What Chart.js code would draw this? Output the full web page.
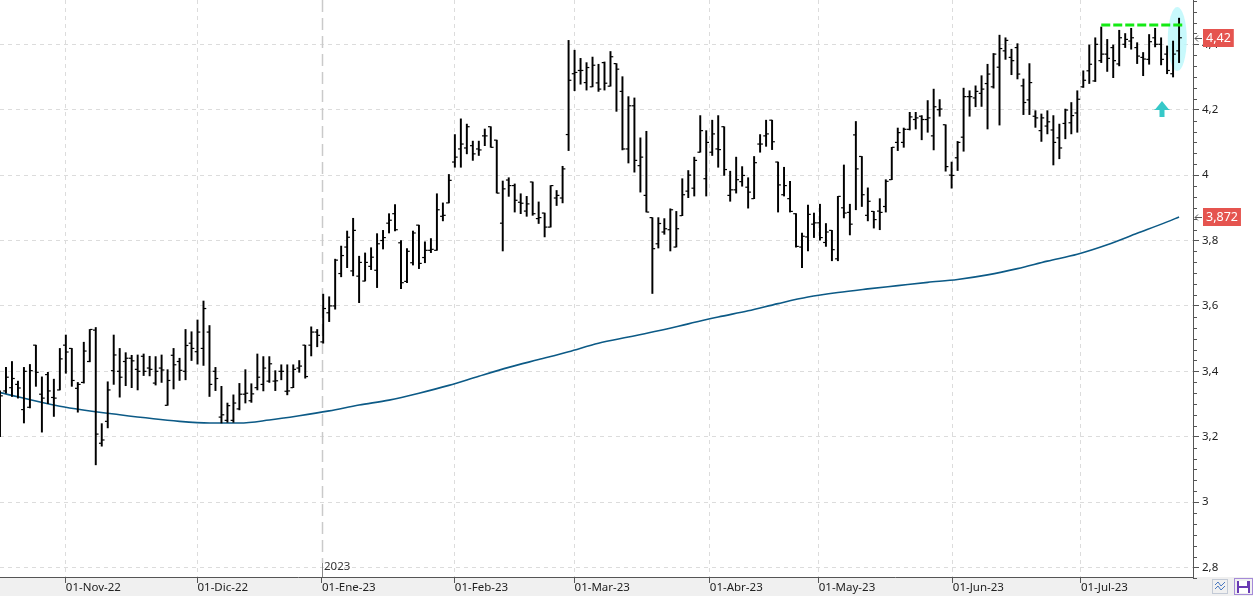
<!DOCTYPE html>
<html>
<head>
<meta charset="utf-8">
<script src="https://cdn.jsdelivr.net/npm/chart.js@4.4.0/dist/chart.umd.min.js"></script>
<style>
  html, body { margin: 0; padding: 0; background: #fff; }
  canvas { display: block; }
</style>
</head>
<body>
<canvas id="chart" width="1253" height="596"></canvas>
<script>
// daily OHLC, one entry per session (mid Oct-22 to late Jul-23)
const opens = [
  3.21, 3.34, 3.35, 3.36, 3.283, 3.29, 3.48, 3.33, 3.39, 3.32,
  3.343, 3.48, 3.47, 3.348, 3.366, 3.43, 3.526, 3.18, 3.247, 3.402,
  3.40, 3.43, 3.44, 3.406, 3.446, 3.41, 3.364, 3.41, 3.296, 3.449,
  3.43, 3.40, 3.486, 3.46, 3.47, 3.52, 3.40, 3.26, 3.25, 3.25,
  3.285, 3.33, 3.31, 3.35, 3.36, 3.37, 3.37, 3.40, 3.339, 3.35,
  3.41, 3.48, 3.48, 3.52, 3.49, 3.579, 3.60, 3.699, 3.78, 3.707,
  3.691, 3.676, 3.721, 3.709, 3.80, 3.853, 3.882, 3.793, 3.675, 3.732,
  3.847, 3.748, 3.77, 3.77, 3.874, 3.915, 4.04, 4.08, 4.083, 4.09,
  4.08, 4.12, 4.148, 4.107, 3.853, 3.985, 3.968, 3.917, 3.89, 3.979,
  3.867, 3.884, 3.841, 3.93, 3.93, 4.124, 4.31, 4.32, 4.283, 4.27,
  4.282, 4.344, 4.272, 4.341, 4.256, 4.08, 4.212, 4.029, 3.938, 3.87,
  3.79, 3.826, 3.833, 3.78, 3.876, 3.951, 3.96, 4.07, 3.989, 4.07,
  4.08, 4.148, 3.938, 3.955, 3.98, 3.963, 3.928, 4.095, 4.12, 4.168,
  4.04, 3.94, 3.928, 3.882, 3.78, 3.811, 3.85, 3.854, 3.794, 3.831,
  3.744, 3.90, 3.886, 4.123, 4.057, 3.877, 3.889, 3.89, 3.904, 3.986,
  4.10, 4.10, 4.14, 4.17, 4.18, 4.17, 4.12, 4.20, 4.154, 4.00,
  4.053, 4.116, 4.24, 4.236, 4.25, 4.28, 4.27, 4.33, 4.38, 4.36,
  4.39, 4.273, 4.23, 4.18, 4.136, 4.15, 4.138, 4.114, 4.158, 4.16,
  4.19, 4.27, 4.319, 4.288, 4.35, 4.37, 4.39, 4.34, 4.40, 4.41,
  4.39, 4.36, 4.354, 4.42, 4.40, 4.37, 4.31, 4.38
];
const highs = [
  3.34, 3.412, 3.43, 3.37, 3.412, 3.421, 3.48, 3.383, 3.397, 3.376,
  3.47, 3.511, 3.47, 3.366, 3.489, 3.528, 3.534, 3.24, 3.368, 3.511,
  3.47, 3.457, 3.449, 3.45, 3.453, 3.446, 3.445, 3.45, 3.405, 3.47,
  3.44, 3.528, 3.521, 3.557, 3.615, 3.54, 3.412, 3.354, 3.303, 3.328,
  3.363, 3.405, 3.362, 3.453, 3.445, 3.445, 3.402, 3.42, 3.42, 3.42,
  3.433, 3.48, 3.536, 3.528, 3.636, 3.628, 3.743, 3.783, 3.829, 3.868,
  3.752, 3.762, 3.778, 3.821, 3.831, 3.882, 3.91, 3.80, 3.775, 3.829,
  3.847, 3.796, 3.806, 3.943, 3.915, 4.002, 4.124, 4.172, 4.156, 4.104,
  4.104, 4.141, 4.148, 4.107, 3.982, 3.992, 3.973, 3.943, 3.935, 3.979,
  3.918, 3.884, 3.968, 3.953, 4.027, 4.412, 4.382, 4.357, 4.344, 4.361,
  4.339, 4.346, 4.378, 4.341, 4.301, 4.24, 4.236, 4.114, 4.134, 3.87,
  3.87, 3.867, 3.897, 3.889, 3.989, 4.014, 4.055, 4.182, 4.136, 4.168,
  4.182, 4.148, 4.012, 4.055, 4.026, 3.992, 4.057, 4.124, 4.168, 4.168,
  4.04, 4.024, 3.981, 3.882, 3.823, 3.908, 3.884, 3.911, 3.852, 3.831,
  3.935, 4.031, 3.911, 4.164, 4.057, 3.961, 3.889, 3.928, 3.986, 4.085,
  4.144, 4.144, 4.192, 4.192, 4.182, 4.228, 4.263, 4.231, 4.154, 4.04,
  4.103, 4.266, 4.258, 4.273, 4.304, 4.339, 4.372, 4.428, 4.42, 4.385,
  4.402, 4.294, 4.341, 4.197, 4.187, 4.197, 4.182, 4.156, 4.202, 4.222,
  4.258, 4.319, 4.398, 4.42, 4.453, 4.415, 4.398, 4.443, 4.433, 4.449,
  4.405, 4.375, 4.43, 4.449, 4.42, 4.395, 4.41, 4.48
];
const lows = [
  3.20, 3.333, 3.323, 3.318, 3.242, 3.288, 3.354, 3.214, 3.301, 3.262,
  3.343, 3.394, 3.354, 3.275, 3.364, 3.429, 3.114, 3.171, 3.227, 3.36,
  3.321, 3.356, 3.35, 3.343, 3.387, 3.386, 3.358, 3.366, 3.296, 3.346,
  3.372, 3.374, 3.433, 3.422, 3.418, 3.323, 3.341, 3.242, 3.244, 3.244,
  3.282, 3.303, 3.305, 3.343, 3.34, 3.366, 3.341, 3.374, 3.328, 3.35,
  3.397, 3.379, 3.447, 3.475, 3.486, 3.552, 3.59, 3.689, 3.717, 3.692,
  3.61, 3.676, 3.711, 3.656, 3.774, 3.823, 3.829, 3.653, 3.671, 3.725,
  3.714, 3.732, 3.763, 3.77, 3.86, 3.915, 4.024, 4.024, 4.065, 4.045,
  4.06, 4.09, 4.085, 3.945, 3.768, 3.935, 3.887, 3.882, 3.874, 3.877,
  3.852, 3.811, 3.841, 3.907, 3.915, 4.075, 4.258, 4.278, 4.26, 4.27,
  4.256, 4.26, 4.272, 4.195, 4.077, 4.037, 4.009, 3.948, 3.887, 3.638,
  3.777, 3.819, 3.768, 3.78, 3.876, 3.931, 3.936, 4.07, 3.936, 4.06,
  4.024, 3.999, 3.92, 3.945, 3.966, 3.899, 3.928, 4.07, 4.088, 4.078,
  3.887, 3.936, 3.887, 3.78, 3.717, 3.768, 3.809, 3.801, 3.782, 3.738,
  3.738, 3.869, 3.817, 3.894, 3.904, 3.86, 3.838, 3.833, 3.887, 3.986,
  4.075, 4.085, 4.138, 4.141, 4.108, 4.131, 4.077, 4.18, 4.012, 3.96,
  4.014, 4.073, 4.18, 4.209, 4.21, 4.141, 4.266, 4.153, 4.354, 4.307,
  4.294, 4.185, 4.185, 4.146, 4.103, 4.126, 4.031, 4.05, 4.111, 4.126,
  4.131, 4.268, 4.28, 4.286, 4.344, 4.317, 4.298, 4.334, 4.39, 4.385,
  4.341, 4.304, 4.339, 4.392, 4.337, 4.31, 4.30, 4.344
];
const closes = [
  3.325, 3.382, 3.378, 3.349, 3.40, 3.402, 3.397, 3.318, 3.34, 3.318,
  3.438, 3.459, 3.372, 3.36, 3.462, 3.528, 3.208, 3.19, 3.343, 3.45,
  3.382, 3.44, 3.432, 3.40, 3.40, 3.406, 3.40, 3.404, 3.372, 3.42,
  3.403, 3.479, 3.47, 3.52, 3.592, 3.36, 3.378, 3.267, 3.295, 3.303,
  3.33, 3.333, 3.331, 3.382, 3.41, 3.423, 3.371, 3.40, 3.34, 3.406,
  3.416, 3.384, 3.52, 3.51, 3.592, 3.60, 3.74, 3.754, 3.81, 3.831,
  3.733, 3.733, 3.749, 3.79, 3.809, 3.862, 3.833, 3.671, 3.767, 3.823,
  3.73, 3.77, 3.773, 3.894, 3.877, 3.984, 4.055, 4.095, 4.148, 4.065,
  4.077, 4.12, 4.085, 3.945, 3.958, 3.968, 3.923, 3.914, 3.912, 3.882,
  3.87, 3.841, 3.968, 3.938, 4.019, 4.29, 4.314, 4.32, 4.329, 4.336,
  4.263, 4.281, 4.362, 4.324, 4.08, 4.212, 4.045, 4.055, 3.887, 3.775,
  3.852, 3.836, 3.894, 3.836, 3.94, 4.00, 4.045, 4.136, 4.10, 4.126,
  4.078, 4.017, 3.955, 3.986, 3.999, 3.948, 4.038, 4.095, 4.126, 4.102,
  3.97, 3.968, 3.889, 3.782, 3.813, 3.88, 3.854, 3.809, 3.826, 3.772,
  3.935, 3.884, 3.85, 4.019, 3.94, 3.92, 3.864, 3.886, 3.981, 4.085,
  4.13, 4.14, 4.178, 4.175, 4.17, 4.175, 4.209, 4.202, 4.026, 3.999,
  4.10, 4.24, 4.24, 4.256, 4.263, 4.309, 4.37, 4.387, 4.412, 4.35,
  4.309, 4.222, 4.283, 4.175, 4.175, 4.163, 4.10, 4.083, 4.199, 4.182,
  4.232, 4.29, 4.339, 4.40, 4.37, 4.357, 4.35, 4.42, 4.415, 4.42,
  4.364, 4.355, 4.408, 4.40, 4.354, 4.32, 4.37, 4.42
];

const maSessions = [0, 10, 20, 30, 35, 40, 45, 50, 55, 60, 65, 70, 75, 80, 85, 90, 95, 100,
  105, 110, 115, 120, 125, 130, 135, 140, 145, 150, 155, 160, 165, 170, 175, 180, 185, 190, 195, 197];
const maValues = [3.335, 3.293, 3.267, 3.247, 3.242, 3.242, 3.251, 3.264, 3.279, 3.297, 3.312,
  3.333, 3.357, 3.385, 3.412, 3.436, 3.46, 3.486, 3.505, 3.524, 3.545, 3.566, 3.585, 3.607,
  3.627, 3.641, 3.652, 3.662, 3.672, 3.681, 3.695, 3.714, 3.737, 3.758, 3.787, 3.822, 3.857, 3.872];

// month marks on the session axis
const monthSessions = [11, 33, 53.8, 76, 96, 118.6, 136.8, 159.2, 180.6];
const monthLabels = ['01-Nov-22', '01-Dic-22', '01-Ene-23', '01-Feb-23', '01-Mar-23',
  '01-Abr-23', '01-May-23', '01-Jun-23', '01-Jul-23'];
const yearMark = 2;        // index in monthSessions where 2023 starts
const yearLabel = '2023';
const priceTicks = [2.8, 3, 3.2, 3.4, 3.6, 3.8, 4, 4.2, 4.4];

// resistance drawn on the chart
const resistanceLevel = 4.459;
const resistanceSessions = [184, 197.7];
const highlightSession = 196.7, highlightPrice = 4.416;
const signalSession = 194.2, signalPrice = 4.227;

const fmt = v => String(v).replace('.', ',');

function drawArrowLabel(ctx, y, text) {
  const cy = Math.round(y);
  ctx.font = '12.5px "Noto Sans"';
  const w = ctx.measureText(text).width + 6;
  ctx.fillStyle = '#e5544f';
  ctx.fillRect(1203, cy - 9, w, 18);
  ctx.fillStyle = '#fff';
  ctx.textBaseline = 'middle';
  ctx.textAlign = 'left';
  ctx.fillText(text, 1206, cy + 0.5);
  ctx.strokeStyle = '#555';
  ctx.lineWidth = 1;
  ctx.beginPath();
  ctx.moveTo(1202, cy + 0.5);
  ctx.lineTo(1195, cy + 0.5);
  ctx.moveTo(1198, cy - 2.5);
  ctx.lineTo(1195, cy + 0.5);
  ctx.lineTo(1198, cy + 3.5);
  ctx.stroke();
}

const noPadding = s => {
  s.paddingLeft = 0; s.paddingRight = 0; s.paddingTop = 0; s.paddingBottom = 0;
};

const decorations = {
  id: 'decorations',
  beforeDraw(chart) {
    const { ctx, width, height, chartArea } = chart;
    ctx.save();
    ctx.fillStyle = '#f0f0f0';
    ctx.fillRect(0, chartArea.bottom, width, height - chartArea.bottom);
    ctx.restore();
  },
  beforeDatasetsDraw(chart) {
    const { ctx, chartArea, scales: { x, y } } = chart;
    ctx.save();
    // year separator
    const xs = Math.round(x.getPixelForValue(monthSessions[yearMark])) + 0.5;
    ctx.strokeStyle = '#cacaca';
    ctx.lineWidth = 1.5;
    ctx.setLineDash([12, 6]);
    ctx.beginPath();
    ctx.moveTo(xs, chartArea.top);
    ctx.lineTo(xs, chartArea.bottom - 14);
    ctx.stroke();
    ctx.setLineDash([]);
    ctx.strokeStyle = '#888';
    ctx.lineWidth = 1;
    ctx.beginPath();
    ctx.moveTo(xs, chartArea.bottom - 14);
    ctx.lineTo(xs, chartArea.bottom);
    ctx.stroke();
    ctx.fillStyle = '#333';
    ctx.font = '11.5px "Noto Sans"';
    ctx.textBaseline = 'middle';
    ctx.fillText(yearLabel, xs + 1.5, chartArea.bottom - 10);
    // highlight around last session
    ctx.fillStyle = 'rgba(190, 248, 252, 0.85)';
    ctx.beginPath();
    ctx.ellipse(x.getPixelForValue(highlightSession), y.getPixelForValue(highlightPrice), 9.5, 32, 0, 0, Math.PI * 2);
    ctx.fill();
    ctx.restore();
  },
  afterDraw(chart) {
    const { ctx, chartArea, scales: { x, y } } = chart;
    ctx.save();
    // minor ticks on the price axis
    const step = 0.2 / 6;
    ctx.strokeStyle = '#555';
    ctx.lineWidth = 1;
    ctx.beginPath();
    for (let k = -1; priceTicks[0] + k * step <= y.max; k++) {
      if (k % 6 === 0) continue;
      const py = Math.round(y.getPixelForValue(priceTicks[0] + k * step)) + 0.5;
      ctx.moveTo(chartArea.right, py);
      ctx.lineTo(chartArea.right + 4, py);
    }
    ctx.stroke();
    // signal arrow
    const ax = Math.round(x.getPixelForValue(signalSession));
    const ay = Math.round(y.getPixelForValue(signalPrice));
    ctx.fillStyle = '#36c8c8';
    ctx.beginPath();
    ctx.moveTo(ax, ay);
    ctx.lineTo(ax + 6.5, ay + 8);
    ctx.lineTo(ax - 6.5, ay + 8);
    ctx.closePath();
    ctx.fill();
    ctx.fillRect(ax - 7.5, ay + 8, 15, 1);
    ctx.fillRect(ax - 2.5, ay + 8, 5, 8);
    // last values
    drawArrowLabel(ctx, y.getPixelForValue(closes[closes.length - 1]), fmt(closes[closes.length - 1].toFixed(2)));
    drawArrowLabel(ctx, y.getPixelForValue(maValues[maValues.length - 1]), fmt(maValues[maValues.length - 1].toFixed(3)));
    // toolbar buttons
    ctx.strokeStyle = '#c3cad6';
    ctx.strokeRect(1212.5, 579.5, 15, 14);
    ctx.strokeStyle = '#4a78c0';
    ctx.beginPath();
    ctx.moveTo(1215, 585); ctx.lineTo(1218, 582); ctx.lineTo(1221, 586); ctx.lineTo(1225, 582);
    ctx.moveTo(1215, 589); ctx.lineTo(1218, 586); ctx.lineTo(1221, 590); ctx.lineTo(1225, 586);
    ctx.stroke();
    ctx.strokeStyle = '#a58ad8';
    ctx.strokeRect(1234.5, 578.5, 18, 16);
    ctx.fillStyle = '#6a3cb4';
    ctx.fillRect(1237, 581, 13, 12);
    ctx.fillStyle = '#fff';
    ctx.fillRect(1239, 581, 8, 5);
    ctx.fillRect(1239, 588, 9, 5);
    ctx.restore();
  }
};

Chart.defaults.font.family = '"Noto Sans", sans-serif';

new Chart(document.getElementById('chart'), {
  type: 'bar',
  data: {
    datasets: [
      {
        type: 'line',
        data: resistanceSessions.map(s => ({ x: s, y: resistanceLevel })),
        borderColor: '#14ea14',
        borderWidth: 3,
        borderDash: [9, 3],
        pointRadius: 0,
        order: 0
      },
      {
        type: 'scatter',
        data: opens.map((v, i) => ({ x: i - 0.25, y: v })),
        pointStyle: 'line',
        pointRadius: 1.3,
        borderColor: '#000',
        borderWidth: 1.2,
        order: 1
      },
      {
        type: 'scatter',
        data: closes.map((v, i) => ({ x: i + 0.25, y: v })),
        pointStyle: 'line',
        pointRadius: 1.3,
        borderColor: '#000',
        borderWidth: 1.2,
        order: 1
      },
      {
        type: 'bar',
        data: highs.map((h, i) => ({ x: i, y: [lows[i], h] })),
        backgroundColor: '#000',
        barThickness: 1.3,
        grouped: false,
        order: 2
      },
      {
        type: 'line',
        data: maSessions.map((s, k) => ({ x: s, y: maValues[k] })),
        borderColor: '#0c5a86',
        borderWidth: 1.6,
        pointRadius: 0,
        cubicInterpolationMode: 'monotone',
        order: 3
      }
    ]
  },
  options: {
    responsive: false,
    animation: false,
    events: [],
    layout: { padding: 0, autoPadding: false },
    plugins: { legend: { display: false }, tooltip: { enabled: false } },
    scales: {
      x: {
        type: 'linear',
        offset: false,
        min: 0,
        max: 199.33,
        afterFit(s) { s.height = 19; noPadding(s); },
        afterBuildTicks(s) { s.ticks = monthSessions.map(v => ({ value: v })); },
        ticks: {
          callback: (v, i) => monthLabels[i],
          align: 'start',
          autoSkip: false,
          maxRotation: 0,
          padding: -2,
          color: '#222',
          font: { size: 11.5 }
        },
        grid: {
          offset: false,
          color: c => c.index === yearMark ? 'rgba(0,0,0,0)' : '#dcdcdc',
          tickColor: '#555',
          tickLength: 6,
          tickBorderDash: []
        },
        border: { color: '#555', dash: [4, 4] }
      },
      y: {
        position: 'right',
        min: 2.771,
        max: 4.5355,
        afterFit(s) { s.width = 60; noPadding(s); },
        afterBuildTicks(s) { s.ticks = priceTicks.map(v => ({ value: v })); },
        ticks: {
          callback: v => fmt(Math.round(v * 10) / 10),
          padding: 3,
          color: '#222',
          font: { size: 11.5 }
        },
        grid: {
          color: '#dcdcdc',
          tickColor: '#555',
          tickLength: 6,
          tickBorderDash: []
        },
        border: { color: '#555', dash: [4, 4] }
      }
    }
  },
  plugins: [decorations]
});
</script>
</body>
</html>
